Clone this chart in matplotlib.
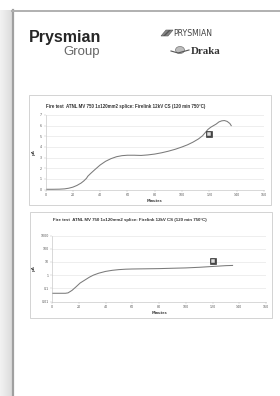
import numpy as np
import matplotlib.pyplot as plt
from matplotlib.patches import Rectangle, Polygon, Ellipse

# --- data ---
title = "Fire test  ATNL MV 750 1x120mm2 splice: Firelink 12kV CS (120 min 750°C)"

minutes_lin = [0, 5, 10, 14, 17, 20, 23, 26, 28, 30, 31, 33, 36, 40, 44, 48, 52, 56, 60,
               65, 70, 75, 80, 85, 90, 95, 100, 104, 108, 112, 115, 117, 119, 121, 123,
               125, 127, 129, 131, 133, 135, 136]
current_lin = [0.02, 0.02, 0.03, 0.06, 0.12, 0.22, 0.38, 0.6, 0.8, 1.05, 1.25, 1.5, 1.85,
               2.3, 2.65, 2.9, 3.08, 3.18, 3.22, 3.22, 3.2, 3.25, 3.33, 3.45, 3.6, 3.78,
               4.0, 4.2, 4.45, 4.75, 5.05, 5.35, 5.65, 5.85, 6.0, 6.15, 6.35, 6.45, 6.48,
               6.4, 6.2, 6.0]

minutes_log = [0, 5, 10, 12, 15, 18, 21, 25, 28, 31, 35, 40, 45, 50, 55, 60, 70, 80, 90,
               100, 110, 120, 130, 135]
current_log = [0.042, 0.042, 0.042, 0.045, 0.07, 0.13, 0.25, 0.45, 0.7, 1.0, 1.4, 1.9, 2.3,
               2.6, 2.8, 2.9, 3.0, 3.1, 3.3, 3.5, 3.9, 4.5, 5.2, 5.4]

x_ticks = [0, 20, 40, 60, 80, 100, 120, 140, 160]
lin_y_ticks = [0, 1, 2, 3, 4, 5, 6, 7]
log_y_ticks = [0.01, 0.1, 1, 10, 100, 1000]
log_y_labels = ["0.01", "0.1", "1", "10", "100", "1000"]

icon_lin = ([120], [5.2])
icon_log = ([120], [12])

W, H = 280, 396
fig = plt.figure(figsize=(W / 100, H / 100), dpi=100)
fig.patch.set_facecolor("white")

# page decoration in pixel coordinates
bg = fig.add_axes([0, 0, 1, 1])
bg.set_xlim(0, W)
bg.set_ylim(H, 0)
bg.axis("off")
ramp = np.linspace(0.95, 0.86, 50)[None, :]
bg.imshow(ramp, cmap="gray", vmin=0, vmax=1, extent=[0, 12, H, 10], aspect="auto")
bg.plot([12.5, 12.5], [10, H], color="#a0a0a0", lw=1.6)
bg.plot([12, W], [10.5, 10.5], color="#b0b0b0", lw=1.4)

# logos
bg.text(29, 42, "Prysmian", fontsize=11.5, fontweight="bold", color="#262626",
        family="Liberation Sans", va="baseline", ha="left")
bg.text(100, 55, "Group", fontsize=9.5, color="#666666", family="Liberation Sans",
        va="baseline", ha="right")
bg.add_patch(Polygon([[161, 36], [166, 30], [173, 30], [168, 36]], closed=True,
                     facecolor="#888888", edgecolor="#555555", lw=0.4, hatch="////"))
bg.text(173, 36, "PRYSMIAN", fontsize=5.6, color="#444444", family="DejaVu Sans",
        va="baseline", ha="left")
bg.add_patch(Ellipse((180, 50), 9, 7, facecolor="#bdbdbd", edgecolor="#777777", lw=0.5))
bg.plot([171, 178, 189], [51, 53, 50], color="#555555", lw=0.8)
bg.text(191, 54, "Draka", fontsize=7.8, fontweight="bold", color="#333333",
        family="Liberation Serif", va="baseline", ha="left")

# chart frames
bg.add_patch(Rectangle((29, 95), 242, 110, fill=False, edgecolor="#cccccc", lw=0.6))
bg.add_patch(Rectangle((30, 212), 242, 106, fill=False, edgecolor="#cccccc", lw=0.6))

line_kw = dict(color="#7a7a7a", lw=0.75)
tick_kw = dict(labelsize=2.3, labelcolor="#555555", length=1.2, width=0.3,
               color="#bbbbbb", pad=1.2)


def style_axes(ax):
    ax.set_facecolor("white")
    for side in ("top", "right"):
        ax.spines[side].set_visible(False)
    for side in ("left", "bottom"):
        ax.spines[side].set_color("#bbbbbb")
        ax.spines[side].set_linewidth(0.4)
    ax.grid(axis="y", color="#e2e2e2", lw=0.4)
    ax.set_axisbelow(True)
    ax.tick_params(**tick_kw)
    ax.set_xlim(0, 160)
    ax.set_xticks(x_ticks)
    ax.set_xlabel("Minutes", fontsize=2.5, fontweight="bold", color="#444444", labelpad=1.5)
    ax.set_ylabel("µA", fontsize=2.7, fontweight="bold", color="#444444", labelpad=3)


def draw_icon(ax, xs, ys):
    ax.plot(xs, ys, marker="s", ms=4.2, mfc="#4a4a4a", mec="#222222", mew=0.4, ls="none")
    ax.plot(xs, ys, marker="s", ms=2.2, mfc="#dddddd", mec="#333333", mew=0.3, ls="none")


# linear chart
ax1 = fig.add_axes([45.5 / W, 1 - 189.5 / H, 218.5 / W, 74.5 / H])
style_axes(ax1)
ax1.plot(minutes_lin, current_lin, **line_kw)
ax1.set_ylim(0, 7)
ax1.set_yticks(lin_y_ticks)
draw_icon(ax1, *icon_lin)
bg.text(46, 108, title, fontsize=3.25, fontweight="bold", color="#333333",
        family="Liberation Sans", va="baseline", ha="left")

# logarithmic chart
ax2 = fig.add_axes([52 / W, 1 - 301.5 / H, 214 / W, 66 / H])
style_axes(ax2)
ax2.set_yscale("log")
ax2.plot(minutes_log, current_log, **line_kw)
ax2.set_ylim(0.01, 1000)
ax2.set_yticks(log_y_ticks)
ax2.set_yticklabels(log_y_labels)
ax2.minorticks_off()
draw_icon(ax2, *icon_log)
bg.text(53, 221, title, fontsize=3.15, fontweight="bold", color="#333333",
        family="Liberation Sans", va="baseline", ha="left")

fig.savefig("out.png", dpi=100, facecolor="white")
